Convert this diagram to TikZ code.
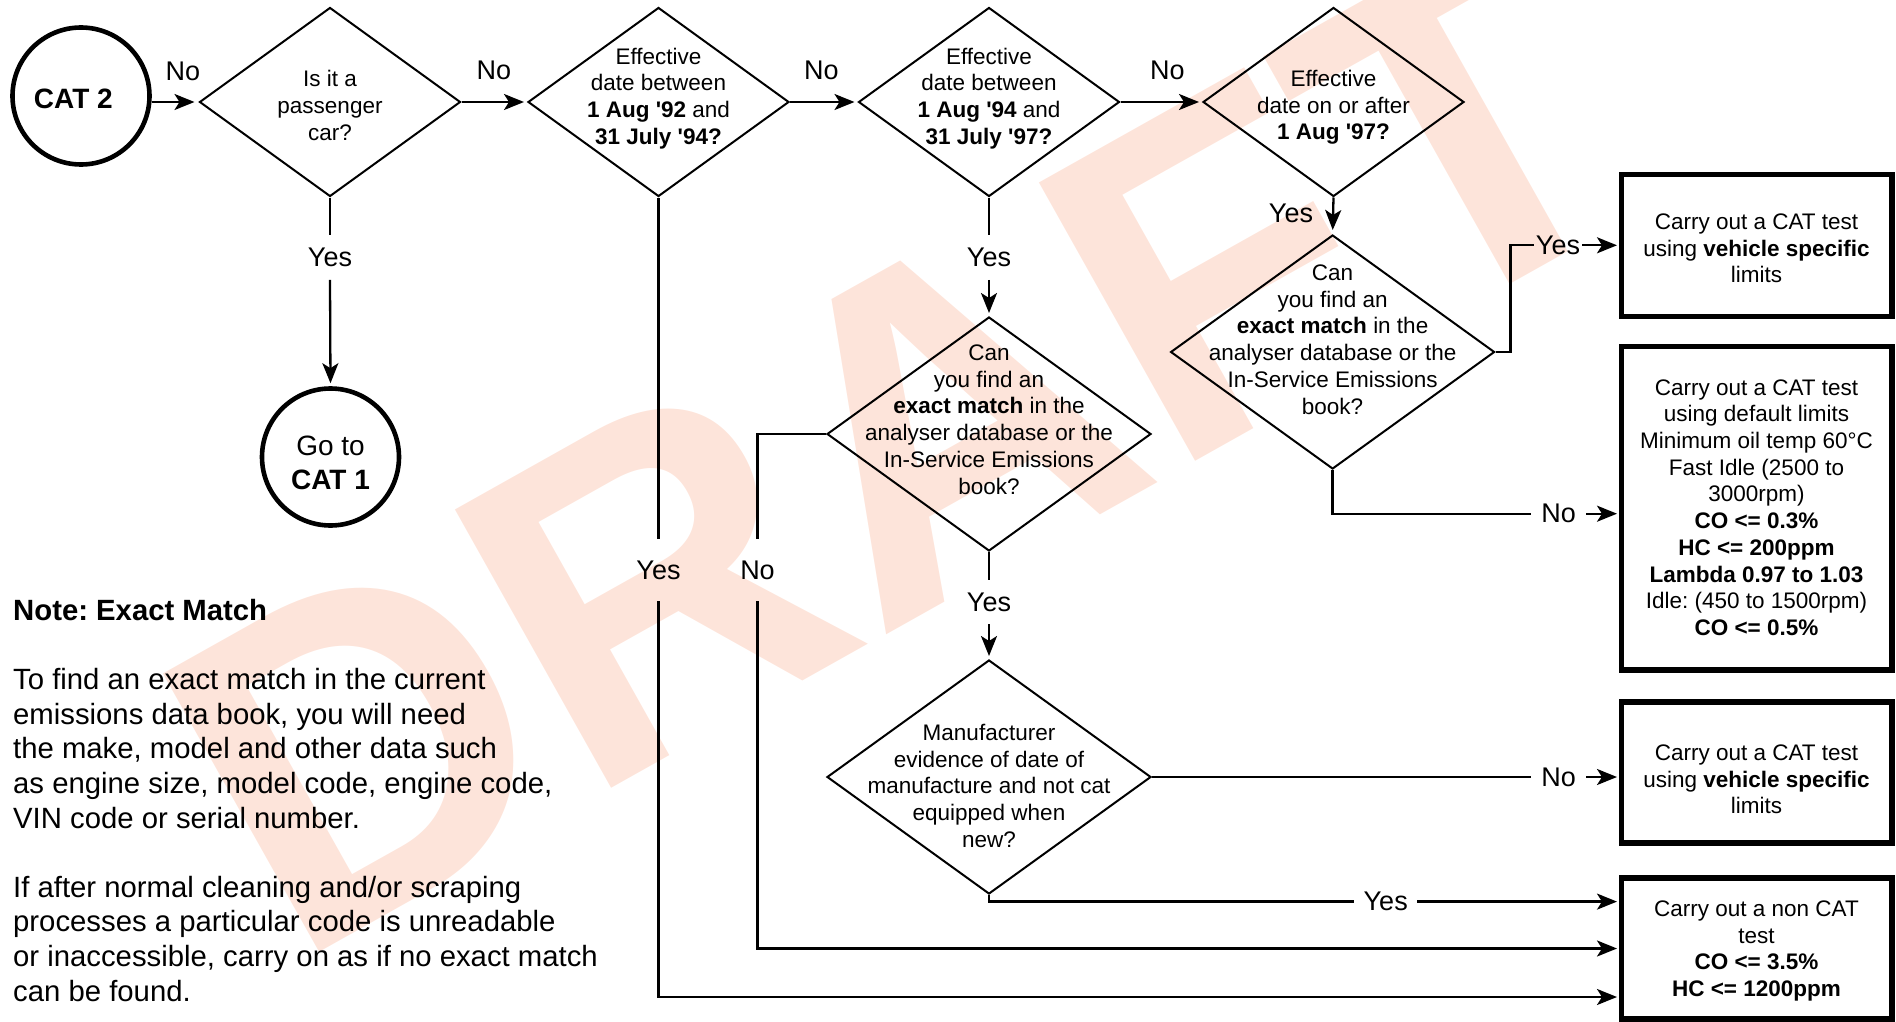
\documentclass[tikz,border=0pt]{standalone}
\usepackage{fontspec}
\setmainfont{Liberation Sans}
\usetikzlibrary{arrows.meta,shapes.geometric}
\definecolor{wm}{RGB}{253,228,218}
\newcommand{\myq}{\textquotesingle}
\frenchspacing
\begin{document}
\begin{tikzpicture}[x=1pt,y=-1pt,
  conn/.style={line width=2.3pt},
  myarrow/.style={-{Stealth[length=20pt,width=16pt,inset=5pt]}},
  dia/.style={draw,diamond,line width=2pt,inner sep=0pt},
  smalldia/.style={dia,minimum width=261pt,minimum height=189pt},
  bigdia/.style={dia,minimum width=324pt,minimum height=234pt},
  dtext/.style={font=\fontsize{22.5}{26.7}\selectfont,align=center,inner sep=0pt},
  tbox/.style={draw,rectangle,line width=5.5pt,minimum width=270.5pt,inner sep=0pt},
  term/.style={draw,circle,line width=4.6pt,minimum size=137pt,inner sep=0pt},
  termtext/.style={font=\fontsize{28}{34.4}\selectfont,align=center,inner sep=0pt},
  lab/.style={font=\fontsize{27}{32}\selectfont,inner sep=0pt}]
\useasboundingbox (0,0) rectangle (1896,1022);
% watermark
\node[rotate=29.3,anchor=base west,inner sep=0pt,text=wm,font=\fontsize{464}{464}\selectfont\bfseries] (wmk) at (292,968) {DRAFT};
% terminals
\node[term,label={[termtext,xshift=-7.7pt,yshift=-3pt]center:\textbf{CAT 2}}] (cat2) at (81,96) {};
\node[term,label={[termtext,yshift=-6pt]center:{Go to\\\textbf{CAT 1}}}] (cat1) at (330.5,457) {};
% diamonds
\node[smalldia,label={[dtext,yshift=-3.5pt]center:{Is it a\\passenger\\car?}}] (d1) at (330,102) {};
\node[smalldia,label={[dtext,yshift=3.6pt]center:{Effective\\date between\\\textbf{1 Aug \myq92} and\\\textbf{31 July \myq94?}}}] (d2) at (658.5,102) {};
\node[smalldia,label={[dtext,yshift=3.6pt]center:{Effective\\date between\\\textbf{1 Aug \myq94} and\\\textbf{31 July \myq97?}}}] (d3) at (989,102) {};
\node[smalldia,label={[dtext,yshift=-5.4pt]center:{Effective\\date on or after\\\textbf{1 Aug \myq97?}}}] (d5) at (1333.5,102) {};
\node[bigdia,label={[dtext,yshift=14.4pt]center:{Can\\you find an\\\textbf{exact match} in the\\analyser database or the\\In-Service Emissions\\book?}}] (d4) at (989,434) {};
\node[bigdia,label={[dtext,yshift=12.4pt]center:{Can\\you find an\\\textbf{exact match} in the\\analyser database or the\\In-Service Emissions\\book?}}] (d6) at (1332.6,352) {};
\node[bigdia,label={[dtext,yshift=-8.8pt]center:{Manufacturer\\evidence of date of\\manufacture and not cat\\equipped when\\new?}}] (d7) at (989,777) {};
% boxes
\node[tbox,minimum height=142pt,label={[dtext,yshift=-3pt]center:{Carry out a CAT test\\using \textbf{vehicle specific}\\limits}}] (box1) at (1756.5,245.3) {};
\node[tbox,minimum height=323.7pt,label={[dtext,yshift=0.7pt]center:{Carry out a CAT test\\using default limits\\Minimum oil temp 60°C\\Fast Idle (2500 to\\3000rpm)\\\textbf{CO <= 0.3\%}\\\textbf{HC <= 200ppm}\\\textbf{Lambda 0.97 to 1.03}\\Idle: (450 to 1500rpm)\\\textbf{CO <= 0.5\%}}}] (box2) at (1756.5,508.2) {};
\node[tbox,minimum height=141.4pt,label={[dtext,yshift=-7pt]center:{Carry out a CAT test\\using \textbf{vehicle specific}\\limits}}] (box3) at (1756.5,772.5) {};
\node[tbox,minimum height=141.4pt,label={[dtext,yshift=-2.5pt]center:{Carry out a non CAT\\test\\\textbf{CO <= 3.5\%}\\\textbf{HC <= 1200ppm}}}] (box4) at (1756.5,948.5) {};
% labels
\node[lab] (n1) at (183,71) {No};
\node[lab] (n2) at (494,70.4) {No};
\node[lab] (n3) at (821.4,70.4) {No};
\node[lab] (n5) at (1167.4,70.4) {No};
\node[lab,inner ysep=12.8pt] (y1) at (330,257.5) {Yes};
\node[lab,inner ysep=12.8pt] (y3) at (989,257.5) {Yes};
\node[lab,inner ysep=21.4pt] (y2) at (658.5,570) {Yes};
\node[lab,inner ysep=21.4pt] (n4) at (757.5,570) {No};
\node[lab,inner ysep=12.8pt] (y4) at (989,602) {Yes};
\node[lab] (y5) at (1291,213) {Yes};
\node[lab,inner xsep=2pt] (y6) at (1558,245.3) {Yes};
\node[lab,inner xsep=10.5pt] (n6) at (1558.5,513.7) {No};
\node[lab,inner xsep=10.5pt] (n7) at (1558.5,777) {No};
\node[lab,inner xsep=9.3pt] (yb) at (1385.7,901.6) {Yes};
% note
\node[anchor=north west,align=left,inner sep=0pt,font=\fontsize{29.3}{34.6}\selectfont] (note) at (13,599) {\textbf{Note: Exact Match}\\[34.6pt]To find an exact match in the current\\emissions data book, you will need\\the make, model and other data such\\as engine size, model code, engine code,\\VIN code or serial number.\\[34.6pt]If after normal cleaning and/or scraping\\processes a particular code is unreadable\\or inaccessible, carry on as if no exact match\\can be found.};
% connectors
\draw[conn,myarrow,shorten >=4pt] (cat2.east |- d1.west) -- (d1.west);
\draw[conn,myarrow,shorten >=3pt] (d1.east) -- (d2.west);
\draw[conn,myarrow,shorten >=3pt] (d2.east) -- (d3.west);
\draw[conn,myarrow,shorten >=3pt] (d3.east) -- (d5.west);
\draw[conn] (d1.south) -- (y1.north);
\draw[conn,myarrow,shorten >=3pt] (y1.south) -- (cat1.north);
\draw[conn] (d2.south) -- (y2.north);
\draw[conn,myarrow,shorten >=1.5pt] (y2.south) |- ([yshift=-48.5pt]box4.west);
\draw[conn] (d3.south) -- (y3.north);
\draw[conn,myarrow,shorten >=3pt] (y3.south) -- (d4.north);
\draw[conn] (d4.west) -| (n4.north);
\draw[conn,myarrow,shorten >=1.5pt] (n4.south) |- (box4.west);
\draw[conn] (d4.south) -- (y4.north);
\draw[conn,myarrow,shorten >=3pt] (y4.south) -- (d7.north);
\draw[conn,myarrow,shorten >=4pt] (d5.south) -- (d6.north);
\draw[conn] (d6.east) -- ++(15,0) |- (y6.west);
\draw[conn,myarrow,shorten >=1.5pt] (y6.east) -- (y6.east -| box1.west);
\draw[conn] (d6.south) |- (n6.west);
\draw[conn,myarrow,shorten >=1.5pt] (n6.east) -- (n6.east -| box2.west);
\draw[conn] (d7.east) -- (n7.west);
\draw[conn,myarrow,shorten >=1.5pt] (n7.east) -- (n7.east -| box3.west);
\draw[conn] (d7.south) |- (yb.west);
\draw[conn,myarrow,shorten >=1.5pt] (yb.east) -- (yb.east -| box4.west);
\end{tikzpicture}
\end{document}
